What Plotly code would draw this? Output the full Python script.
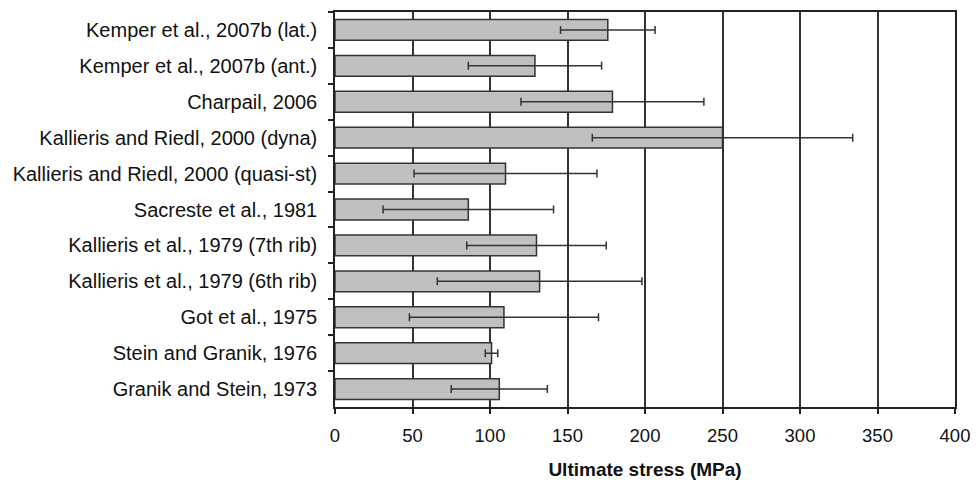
import plotly.graph_objects as go

studies = [
    "Kemper et al., 2007b (lat.)",
    "Kemper et al., 2007b (ant.)",
    "Charpail, 2006",
    "Kallieris and Riedl, 2000 (dyna)",
    "Kallieris and Riedl, 2000 (quasi-st)",
    "Sacreste et al., 1981",
    "Kallieris et al., 1979 (7th rib)",
    "Kallieris et al., 1979 (6th rib)",
    "Got et al., 1975",
    "Stein and Granik, 1976",
    "Granik and Stein, 1973",
]
mean_stress = [176, 129, 179, 250, 110, 86, 130, 132, 109, 101, 106]
std_stress = [30.5, 43, 59, 84, 59, 55, 45, 66, 61, 4, 31]

x_ticks = [0, 50, 100, 150, 200, 250, 300, 350, 400]
x_title = "Ultimate stress (MPa)"

fig = go.Figure(
    go.Bar(
        x=mean_stress,
        y=studies,
        orientation="h",
        marker=dict(color="#c0c0c0", line=dict(color="#333333", width=1.5)),
        error_x=dict(type="data", array=std_stress, visible=True,
                     color="#333333", thickness=1.5, width=4),
    )
)

fig.update_layout(
    width=976, height=484,
    margin=dict(l=335, r=21, t=12, b=77),
    paper_bgcolor="white", plot_bgcolor="white",
    bargap=0.42,
    showlegend=False,
    font=dict(family="Liberation Sans, Arial, sans-serif", size=19, color="#111111"),
)
fig.update_xaxes(
    range=[0, 400], tickvals=x_ticks, ticktext=[str(v) for v in x_ticks],
    showgrid=True, gridcolor="#333333", gridwidth=1.5,
    showline=True, linecolor="#222222", linewidth=1.5, mirror=True,
    ticks="outside", ticklen=5, tickcolor="#222222", tickwidth=1.5,
    tickfont=dict(size=18.5), ticklabelstandoff=6,
    title=dict(text="<b>" + x_title + "</b>", font=dict(size=19), standoff=18),
    zeroline=False, automargin=False,
)
fig.update_yaxes(
    autorange="reversed",
    showline=True, linecolor="#222222", linewidth=1.5, mirror=True,
    ticks="outside", ticklen=5, tickcolor="#222222", tickwidth=1.5,
    tickson="boundaries", showgrid=False,
    tickfont=dict(size=20), ticklabelstandoff=12,
    automargin=False,
)

fig.write_html("out.html", config={"displayModeBar": False},
               post_script="document.body.style.margin='0';document.body.style.padding='0';")
